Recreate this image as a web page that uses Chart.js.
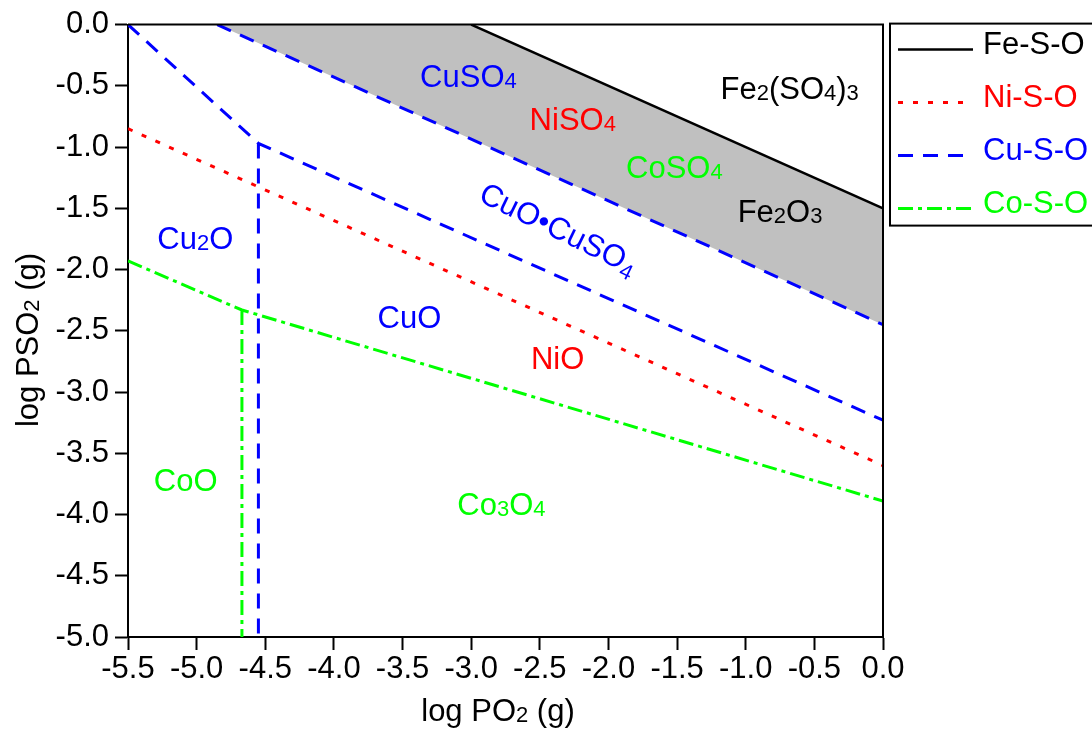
<!DOCTYPE html>
<html>
<head>
<meta charset="utf-8">
<script src="https://cdn.jsdelivr.net/npm/chart.js@4.4.0/dist/chart.umd.min.js"></script>
<style>
body { margin: 0; background: #fff; }
#wrap { width: 1092px; height: 730px; position: relative; }
</style>
</head>
<body>
<div id="wrap"><canvas id="diagram"></canvas></div>
<script>
// phase boundaries, x = log PO2, y = log PSO2
var feX = [-3.0, 0.0];
var feY = [0.0, -1.5];

var niX = [-5.5, 0.0];
var niY = [-0.85, -3.6];

var cuSulfateX = [-4.85, 0.0];
var cuSulfateY = [0.0, -2.45];
var cuOxyX = [-5.5, -4.55, 0.0];
var cuOxyY = [0.0, -0.97, -3.23];
var cuOxideX = [-4.55, -4.55];
var cuOxideY = [-0.97, -5.0];

var coX = [-5.5, -4.67, 0.0];
var coY = [-1.93, -2.33, -3.89];
var coOxideX = [-4.67, -4.67];
var coOxideY = [-2.33, -5.0];

// Fe2O3 field between the Fe and Cu sulfate lines
var shadeX = [-4.85, -3.0, 0.0, 0.0];
var shadeY = [0.0, 0.0, -1.5, -2.45];

var systems = ['Fe-S-O', 'Ni-S-O', 'Cu-S-O', 'Co-S-O'];
var systemColors = ['#000000', '#ff0000', '#0000ff', '#00ff00'];

// phase names, "_" marks the next character as subscript
var phaseNames = ['CuSO_4', 'NiSO_4', 'CoSO_4', 'Fe_2(SO_4)_3', 'Fe_2O_3', 'CuO\u2022CuSO_4', 'Cu_2O', 'CuO', 'NiO', 'CoO', 'Co_3O_4'];
var phaseX = [-3.02, -2.26, -1.52, -0.68, -0.75, -2.36, -5.01, -3.45, -2.37, -5.08, -2.78];
var phaseY = [-0.42, -0.77, -1.16, -0.52, -1.52, -1.66, -1.74, -2.39, -2.72, -3.72, -3.91];
var phaseColors = ['#0000ff', '#ff0000', '#00ff00', '#000000', '#000000', '#0000ff', '#0000ff', '#0000ff', '#ff0000', '#00ff00', '#00ff00'];

var FONT = '"Liberation Sans", Arial, sans-serif';
var FSIZE = 31;

function pts(xs, ys) {
	var out = [];
	for (var i = 0; i < xs.length; i++) out.push({x: xs[i], y: ys[i]});
	return out;
}
// join polylines, a null y breaks the line
function joined() {
	var out = [];
	for (var i = 0; i < arguments.length; i += 2) {
		if (out.length) out.push({x: arguments[i][0], y: null});
		out = out.concat(pts(arguments[i], arguments[i + 1]));
	}
	return out;
}

// text with small subscript digits
function drawRich(ctx, str, x, y, size, color, angle, subDrop) {
	var parts = [];
	var buf = '';
	for (var i = 0; i < str.length; i++) {
		if (str[i] == '_') {
			if (buf) parts.push({t: buf, sub: false});
			buf = '';
			parts.push({t: str[i + 1], sub: true});
			i++;
		} else buf += str[i];
	}
	if (buf) parts.push({t: buf, sub: false});
	var subSize = Math.round(size * 0.72);
	var w = 0;
	parts.forEach(function(p) {
		ctx.font = (p.sub ? subSize : size) + 'px ' + FONT;
		p.w = ctx.measureText(p.t).width;
		w += p.w;
	});
	ctx.save();
	ctx.translate(x, y);
	ctx.rotate(angle || 0);
	ctx.fillStyle = color;
	ctx.textBaseline = 'alphabetic';
	ctx.textAlign = 'left';
	var cx = -w / 2;
	var base = size * 0.716 / 2;
	parts.forEach(function(p) {
		ctx.font = (p.sub ? subSize : size) + 'px ' + FONT;
		ctx.fillText(p.t, cx, base + (p.sub ? (subDrop || 1) : 0));
		cx += p.w;
	});
	ctx.restore();
}

var annotate = {
	id: 'annotate',
	afterDatasetsDraw: function(chart) {
		var ctx = chart.ctx;
		var xs = chart.scales.x, ys = chart.scales.y;
		var a = chart.chartArea;
		// slope of the sulfate lines in pixels, for the rotated label
		var slopeAngle = Math.atan2(ys.getPixelForValue(-0.5) - ys.getPixelForValue(0), xs.getPixelForValue(1) - xs.getPixelForValue(0));
		for (var i = 0; i < phaseNames.length; i++) {
			var rotated = phaseNames[i].indexOf('\u2022') >= 0;
			drawRich(ctx, phaseNames[i], xs.getPixelForValue(phaseX[i]), ys.getPixelForValue(phaseY[i]), FSIZE, phaseColors[i], rotated ? slopeAngle * 1.08 : 0, rotated ? 6 : 1);
		}
		// box on top and right
		ctx.save();
		ctx.strokeStyle = '#000';
		ctx.lineWidth = 2;
		ctx.beginPath();
		ctx.moveTo(a.left, a.top);
		ctx.lineTo(a.right, a.top);
		ctx.lineTo(a.right, a.bottom);
		ctx.stroke();
		ctx.restore();
	},
	afterDraw: function(chart) {
		var ctx = chart.ctx;
		var a = chart.chartArea;
		// axis titles
		drawRich(ctx, 'log PO_2 (g)', 498, 710, FSIZE, '#000', 0);
		drawRich(ctx, 'log PSO_2 (g)', 27, 340, FSIZE, '#000', -Math.PI / 2);
		// legend box
		var bx = a.right + 7, by = a.top - 1;
		ctx.save();
		ctx.strokeStyle = '#000';
		ctx.lineWidth = 2;
		ctx.strokeRect(bx, by, 300, 202);
		for (var i = 0; i < 4; i++) {
			var ds = chart.data.datasets[i];
			var rowY = by + 19 + i * 53;
			ctx.strokeStyle = ds.borderColor;
			ctx.lineWidth = ds.borderWidth;
			ctx.setLineDash(ds.borderDash || []);
			ctx.beginPath();
			ctx.moveTo(bx + 8, rowY + 7);
			ctx.lineTo(bx + 83, rowY + 7);
			ctx.stroke();
			ctx.setLineDash([]);
			ctx.fillStyle = ds.borderColor;
			ctx.font = FSIZE + 'px ' + FONT;
			ctx.textAlign = 'left';
			ctx.textBaseline = 'alphabetic';
			ctx.fillText(ds.label, bx + 93, rowY + FSIZE * 0.716 / 2);
		}
		ctx.restore();
	}
};

var lineBase = {showLine: true, pointRadius: 0, fill: false, spanGaps: false};

var config = {
	type: 'scatter',
	data: {
		datasets: [
			Object.assign({}, lineBase, {
				label: systems[0],
				borderColor: systemColors[0],
				borderWidth: 2.5,
				data: pts(feX, feY)
			}),
			Object.assign({}, lineBase, {
				label: systems[1],
				borderColor: systemColors[1],
				borderWidth: 3,
				borderDash: [5, 10],
				data: pts(niX, niY)
			}),
			Object.assign({}, lineBase, {
				label: systems[2],
				borderColor: systemColors[2],
				borderWidth: 3,
				borderDash: [15, 10],
				data: joined(cuSulfateX, cuSulfateY, cuOxyX, cuOxyY, cuOxideX, cuOxideY)
			}),
			Object.assign({}, lineBase, {
				label: systems[3],
				borderColor: systemColors[3],
				borderWidth: 3,
				borderDash: [15, 5, 4, 5],
				data: joined(coX, coY, coOxideX, coOxideY)
			}),
			{
				label: 'Fe2O3',
				showLine: true,
				pointRadius: 0,
				borderWidth: 0,
				backgroundColor: '#c0c0c0',
				borderColor: 'rgba(0,0,0,0)',
				fill: 'shape',
				order: 10,
				data: pts(shadeX.concat([shadeX[0]]), shadeY.concat([shadeY[0]]))
			}
		]
	},
	options: {
		responsive: true,
		maintainAspectRatio: false,
		animation: false,
		layout: {padding: {top: 24, right: 209, left: 0, bottom: 0}},
		plugins: {
			legend: {display: false},
			tooltip: {enabled: false}
		},
		scales: {
			x: {
				type: 'linear',
				min: -5.5,
				max: 0,
				afterFit: function(s) { s.height = 93; },
				ticks: {
					stepSize: 0.5,
					autoSkip: false,
					maxRotation: 0,
					color: '#000',
					padding: 1,
					font: {family: FONT, size: FSIZE},
					callback: function(v) { return Number(v).toFixed(1); }
				},
				grid: {drawOnChartArea: false, tickLength: 13, tickWidth: 2, tickColor: '#000'},
				border: {color: '#000', width: 2}
			},
			y: {
				type: 'linear',
				min: -5,
				max: 0,
				afterFit: function(s) { s.width = 128; },
				ticks: {
					stepSize: 0.5,
					autoSkip: false,
					color: '#000',
					padding: 6,
					font: {family: FONT, size: FSIZE},
					callback: function(v) { return Number(v).toFixed(1); }
				},
				grid: {drawOnChartArea: false, tickLength: 13, tickWidth: 2, tickColor: '#000'},
				border: {color: '#000', width: 2}
			}
		}
	},
	plugins: [annotate]
};

var chart = new Chart(document.getElementById('diagram'), config);
</script>
</body>
</html>
